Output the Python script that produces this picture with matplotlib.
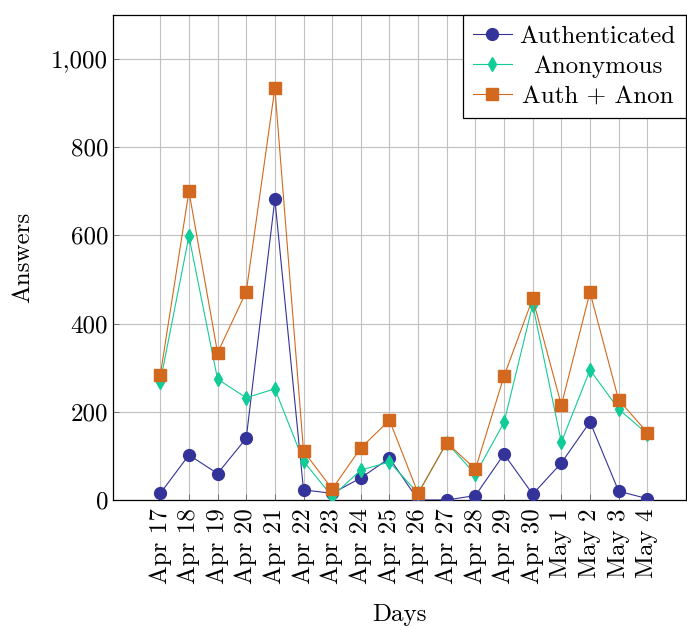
import matplotlib
matplotlib.use("Agg")
import matplotlib.pyplot as plt
from matplotlib.ticker import FuncFormatter
from matplotlib.transforms import Affine2D

days = ["Apr 17", "Apr 18", "Apr 19", "Apr 20", "Apr 21", "Apr 22", "Apr 23",
        "Apr 24", "Apr 25", "Apr 26", "Apr 27", "Apr 28", "Apr 29", "Apr 30",
        "May 1", "May 2", "May 3", "May 4"]
authenticated = [15, 102, 60, 140, 682, 23, 15, 50, 95, 0, 0, 10, 104, 13, 84, 177, 20, 3]
anonymous = [268, 598, 274, 232, 252, 88, 8, 68, 86, 15, 130, 58, 176, 443, 131, 295, 206, 150]
auth_anon = [283, 700, 334, 472, 934, 111, 25, 118, 181, 15, 130, 70, 281, 457, 215, 471, 227, 153]

plt.rcParams['font.family'] = 'serif'
plt.rcParams['font.serif'] = ['cmr10']
plt.rcParams['axes.unicode_minus'] = False
plt.rcParams['font.size'] = 18

fig = plt.figure(figsize=(6.87, 6.26), dpi=100)
ax = fig.add_axes([0.1645, 0.2013, 0.834, 0.7748])

x = list(range(len(days)))
ax.plot(x, authenticated, color='#33339a', marker='o', markersize=8.5, lw=0.8,
        label='Authenticated', zorder=3)
ax.plot(x, anonymous, color='#12cc98', marker='d', markersize=7.5, lw=0.8,
        label='Anonymous', zorder=3)
ax.plot(x, auth_anon, color='#d2691e', marker='s', markersize=8.5, lw=0.8,
        label='Auth + Anon', zorder=3)

ax.set_xlim(-1.65, 18.35)
ax.set_ylim(0, 1100)
ax.set_xticks(x)
ax.set_xticklabels(days, rotation=90)
ax.set_yticks([0, 200, 400, 600, 800, 1000])
ax.yaxis.set_major_formatter(FuncFormatter(lambda v, p: '{:,.0f}'.format(v)))
ax.tick_params(direction='in', length=4, width=0.6, color='#666666')
ax.tick_params(axis='x', pad=6)
ax.grid(True, color='#c0c0c0', lw=0.8)
ax.set_axisbelow(True)
for s in ax.spines.values():
    s.set_linewidth(0.9)

ax.set_xlabel('Days', labelpad=14)
ax.set_ylabel('Answers', labelpad=12)

leg = ax.legend(loc='upper right', fancybox=False, framealpha=1, edgecolor='black',
                borderaxespad=0, handlelength=1.55, handletextpad=0.3,
                borderpad=0.42, labelspacing=0.3)
leg.get_frame().set_linewidth(0.9)

# centre the legend texts like pgfplots does
fig.canvas.draw()
r = fig.canvas.get_renderer()
widths = [t.get_window_extent(r).width for t in leg.get_texts()]
for t, w in zip(leg.get_texts(), widths):
    dx = (max(widths) - w) / 2
    t.set_transform(t.get_transform() + Affine2D().translate(dx, 0))

fig.savefig('out.png', dpi=100)
